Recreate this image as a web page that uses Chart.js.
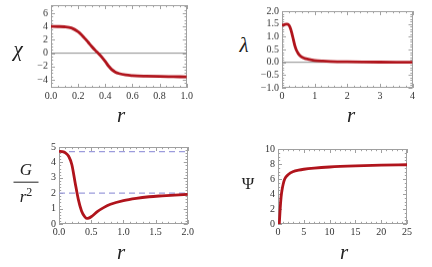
<!DOCTYPE html>
<html><head><meta charset="utf-8">
<script src="https://cdn.jsdelivr.net/npm/chart.js@4/dist/chart.umd.min.js"></script>
<style>
html,body{margin:0;padding:0;background:#fff;}
body{width:432px;height:267px;position:relative;overflow:hidden;font-family:"Liberation Serif",serif;}
canvas{position:absolute;}
.lab{position:absolute;transform:translate(-50%,-50%);color:#222;white-space:nowrap;line-height:1;}
.it{font-style:italic;font-size:21px;}
.frac{position:absolute;transform:translate(-50%,-50%);text-align:center;font-style:italic;font-size:17px;color:#222;line-height:1;}
.frac .num{display:block;padding-bottom:4px;border-bottom:1px solid #222;width:25px;margin:0 auto;}
.frac .den{display:block;padding-top:3px;}
</style>
</head><body>
<canvas id="c1"></canvas><canvas id="c2"></canvas><canvas id="c3"></canvas><canvas id="c4"></canvas>
<div class="lab it" style="left:18px;top:49px;">χ</div>
<div class="lab it" style="left:121px;top:115px;">r</div>
<div class="lab it" style="left:244px;top:45px;">λ</div>
<div class="lab it" style="left:351px;top:115px;">r</div>
<div class="frac" style="left:26px;top:183px;"><span class="num">G</span><span class="den">r<sup style="font-size:12px;font-style:normal;">2</sup></span></div>
<div class="lab it" style="left:121px;top:252px;">r</div>
<div class="lab" style="left:248px;top:183px;font-size:17px;">Ψ</div>
<div class="lab it" style="left:344px;top:252px;">r</div>
<script>
// ---- data ----
const chiR = [0,0.05,0.1,0.15,0.2,0.225,0.25,0.275,0.3,0.325,0.35,0.375,0.4,0.425,0.45,0.475,0.5,0.55,0.6,0.7,0.8,0.9,1.0];
const chiV = [4.0,3.99,3.95,3.78,3.2,2.75,2.2,1.6,1.0,0.45,-0.05,-0.6,-1.25,-1.95,-2.5,-2.85,-3.05,-3.27,-3.36,-3.44,-3.49,-3.52,-3.55];
const chiXTicks = [0,0.2,0.4,0.6,0.8,1.0];
const chiYTicks = [-4,-2,0,2,4,6];

const lamR = [0,0.05,0.1,0.15,0.2,0.25,0.3,0.35,0.4,0.45,0.5,0.6,0.7,0.8,1.0,1.25,1.5,2,2.5,3,3.5,4];
const lamV = [1.45,1.46,1.48,1.49,1.47,1.36,1.15,0.88,0.62,0.45,0.34,0.21,0.15,0.12,0.075,0.05,0.035,0.02,0.012,0.007,0.004,0.002];
const lamXTicks = [0,1,2,3,4];
const lamYTicks = [-1.0,-0.5,0.0,0.5,1.0,1.5,2.0];

const gR = [0,0.05,0.1,0.15,0.2,0.25,0.3,0.35,0.4,0.43,0.46,0.5,0.6,0.7,0.8,1.0,1.2,1.4,1.6,1.8,2.0];
const gV = [4.72,4.7,4.62,4.4,3.85,2.7,1.6,0.85,0.47,0.36,0.38,0.47,0.82,1.08,1.28,1.52,1.67,1.77,1.83,1.88,1.92];
const gRefs = [4.7,2.0];
const gXTicks = [0,0.5,1.0,1.5,2.0];
const gYTicks = [0,1,2,3,4,5];

const psiR = [0.25,0.4,0.6,0.8,1.0,1.3,2,3,4,5,7,10,15,20,25];
const psiV = [0,1.8,3.6,4.6,5.3,6.0,6.6,7.0,7.18,7.3,7.45,7.6,7.75,7.85,7.9];
const psiXTicks = [0,5,10,15,20,25];
const psiYTicks = [0,2,4,6,8,10];

// ---- drawing helpers ----
const RED = '#b0141c';
const FRAME = '#a0a0a0';
const YW = 30, XH = 16, PT = 3, PR = 4;

const frameTicks = {
  id: 'frameTicks',
  beforeDatasetsDraw(chart, args, o) {
    const {ctx, chartArea: a, scales: {x, y}} = chart;
    ctx.save();
    ctx.strokeStyle = FRAME; ctx.lineWidth = 1;
    ctx.strokeRect(Math.round(a.left) + 0.5, Math.round(a.top) + 0.5, Math.round(a.right - a.left) - 1, Math.round(a.bottom - a.top) - 1);
    const marks = (sc, step, sub) => {
      const out = [];
      const ms = step / sub;
      const start = Math.ceil((sc.min - 1e-9) / ms);
      const end = Math.floor((sc.max + 1e-9) / ms);
      for (let k = start; k <= end; k++) {
        const v = k * ms;
        out.push([sc.getPixelForValue(v), k % sub === 0]);
      }
      return out;
    };
    ctx.beginPath();
    for (const [px, maj] of marks(x, o.xs, o.xsub)) {
      const L = maj ? 4 : 2.2, p = Math.round(px) + 0.5;
      ctx.moveTo(p, a.bottom); ctx.lineTo(p, a.bottom - L);
      ctx.moveTo(p, a.top); ctx.lineTo(p, a.top + L);
    }
    for (const [py, maj] of marks(y, o.ys, o.ysub)) {
      const L = maj ? 4 : 2.2, p = Math.round(py) + 0.5;
      ctx.moveTo(a.left, p); ctx.lineTo(a.left + L, p);
      ctx.moveTo(a.right, p); ctx.lineTo(a.right - L, p);
    }
    ctx.stroke();
    ctx.restore();
  }
};

function pts(xs, ys) { return xs.map((v, i) => ({x: v, y: ys[i]})); }
function hline(v, x0, x1, color, dash, w) {
  return {data: [{x: x0, y: v}, {x: x1, y: v}], borderColor: color, borderWidth: w, borderDash: dash, pointRadius: 0, tension: 0};
}

function make(id, box, xr, yr, xt, yt, xs, xsub, ys, ysub, datasets, fmtX, fmtY) {
  const cv = document.getElementById(id);
  const W = YW + (box.R - box.L) + PR, H = PT + (box.B - box.T) + XH;
  cv.width = W; cv.height = H;
  cv.style.width = W + 'px'; cv.style.height = H + 'px';
  cv.style.left = (box.L - YW) + 'px'; cv.style.top = (box.T - PT) + 'px';
  const font = {family: '"Liberation Serif", serif', size: 10};
  new Chart(cv, {
    type: 'line',
    data: {datasets},
    options: {
      responsive: false, animation: false, devicePixelRatio: 1,
      layout: {padding: {top: PT, right: PR, left: 0, bottom: 0}},
      plugins: {legend: {display: false}, tooltip: {enabled: false}, frameTicks: {xs, xsub, ys, ysub}},
      elements: {line: {cubicInterpolationMode: 'monotone'}},
      scales: {
        x: {type: 'linear', min: xr[0], max: xr[1], grid: {display: false, drawTicks: false}, border: {display: false},
            afterFit(s) { s.height = XH; },
            afterBuildTicks(s) { s.ticks = xt.map(v => ({value: v})); },
            ticks: {font, color: '#333', padding: 2, maxRotation: 0, autoSkip: false, callback: fmtX}},
        y: {type: 'linear', min: yr[0], max: yr[1], grid: {display: false, drawTicks: false}, border: {display: false},
            afterFit(s) { s.width = YW; },
            afterBuildTicks(s) { s.ticks = yt.map(v => ({value: v})); },
            ticks: {font, color: '#333', padding: 3, autoSkip: false, callback: fmtY}}
      }
    },
    plugins: [frameTicks]
  });
}
const f1 = v => v.toFixed(1);
const f0 = v => String(v).replace('-', '\u2212');
const f1m = v => v.toFixed(1).replace('-', '\u2212');

make('c1', {L: 51, R: 191, T: -1, B: 87.5}, [0, 1], [-5.2, 7.2], chiXTicks, chiYTicks, 0.2, 4, 2, 4, [
  {data: pts(chiR, chiV), borderColor: RED, borderWidth: 2.8, pointRadius: 0},
  hline(0, 0, 1, '#8c8c8c', [], 1)
], f1, f0);

make('c2', {L: 282, R: 413, T: 5, B: 87.5}, [0, 4], [-1, 2], lamXTicks, lamYTicks, 1, 5, 0.5, 5, [
  {data: pts(lamR, lamV), borderColor: RED, borderWidth: 2.8, pointRadius: 0},
  hline(0, 0, 4, '#8c8c8c', [], 1)
], f0, f1m);

make('c3', {L: 58.5, R: 192, T: 141, B: 224}, [0, 2], [0, 5], gXTicks, gYTicks, 0.5, 5, 1, 5, [
  {data: pts(gR, gV), borderColor: RED, borderWidth: 2.8, pointRadius: 0},
  hline(gRefs[0], 0, 2, '#9c9cdc', [6, 4], 1.3),
  hline(gRefs[1], 0, 2, '#9c9cdc', [6, 4], 1.3)
], f1, f0);

make('c4', {L: 277.5, R: 409.5, T: 143, B: 224.3}, [0, 25], [0, 10], psiXTicks, psiYTicks, 5, 5, 2, 4, [
  {data: pts(psiR, psiV), borderColor: RED, borderWidth: 2.8, pointRadius: 0}
], f0, f0);
</script>
</body></html>
